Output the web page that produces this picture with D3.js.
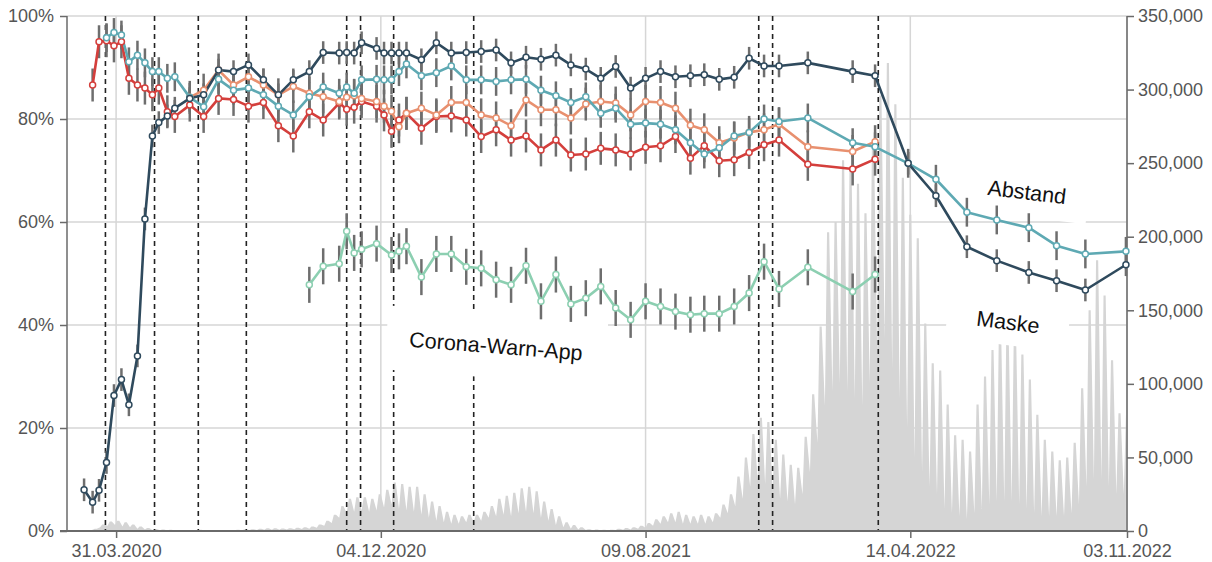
<!DOCTYPE html>
<html><head><meta charset="utf-8">
<script src="https://cdn.jsdelivr.net/npm/d3@7"></script>
<style>
body{margin:0;background:#fff}
svg{display:block}
text{font-family:"Liberation Sans",Arial,Helvetica,sans-serif}
</style>
</head><body>
<svg id="chart" width="1212" height="562"></svg>
<script>
// ---------------- DATA ----------------
const waveDates = ["2020-03-01","2020-03-09","2020-03-15","2020-03-22","2020-03-29","2020-04-05","2020-04-12","2020-04-20","2020-04-27","2020-05-04","2020-05-10","2020-05-18","2020-05-25","2020-06-08","2020-06-21","2020-07-05","2020-07-19","2020-08-02","2020-08-16","2020-08-30","2020-09-13","2020-09-28","2020-10-11","2020-10-26","2020-11-02","2020-11-09","2020-11-16","2020-11-30","2020-12-07","2020-12-14","2020-12-21","2020-12-28","2021-01-11","2021-01-25","2021-02-08","2021-02-22","2021-03-08","2021-03-22","2021-04-05","2021-04-19","2021-05-03","2021-05-17","2021-05-31","2021-06-14","2021-06-28","2021-07-12","2021-07-26","2021-08-09","2021-08-23","2021-09-06","2021-09-20","2021-10-03","2021-10-17","2021-10-31","2021-11-14","2021-11-28","2021-12-12","2022-01-08","2022-02-19","2022-03-12","2022-04-12","2022-05-08","2022-06-06","2022-07-04","2022-08-03","2022-08-29","2022-09-25","2022-11-02"];

// percent values per wave (null = not asked)
const maske = [8.0,5.6,7.9,13.3,26.3,29.4,24.5,34.0,60.6,76.7,79.3,80.6,82.1,84.0,84.7,89.5,89.2,90.5,87.6,84.7,87.6,89.2,92.9,92.8,92.9,92.8,94.8,93.7,92.8,92.8,92.8,92.8,91.5,94.8,92.8,92.9,93.1,93.4,90.9,92.0,91.6,92.4,90.5,89.7,87.9,90.2,86.0,87.9,89.2,88.2,88.4,88.6,87.7,88.1,91.8,90.3,90.3,90.9,89.2,88.4,71.4,65.1,55.2,52.5,50.2,48.6,46.8,51.7];
const abstand = [null,null,null,95.8,96.8,96.3,91.1,92.4,90.9,89.2,89.2,87.9,88.2,84.2,82.4,87.7,85.6,86.0,84.7,82.5,80.8,84.3,86.2,85.0,86.2,85.0,87.6,87.7,87.6,87.6,89.2,90.7,88.4,89.0,90.3,87.6,87.6,87.3,87.6,87.7,85.6,84.5,83.2,84.3,81.1,82.1,79.0,79.2,79.0,77.9,75.4,73.2,74.4,76.7,77.4,80.0,79.5,80.2,75.4,74.6,71.4,68.3,61.9,60.4,58.9,55.4,53.8,54.3];
const haendeWaschen = [null,null,null,null,null,null,null,null,null,null,null,null,null,84.2,85.6,89.5,86.6,88.2,86.6,84.7,86.3,85.0,84.3,83.4,84.2,84.5,84.0,83.4,82.5,81.5,78.5,81.1,82.1,80.8,83.2,83.2,80.8,80.2,78.7,83.7,81.8,81.8,80.2,82.9,83.4,83.1,80.8,83.4,83.2,82.1,78.8,77.9,75.4,76.3,77.4,77.9,79.0,74.6,73.7,75.6,null,null,null,null,null,null,null,null];
const kontakte = [null,86.6,95.0,95.2,94.2,95.0,87.9,86.6,86.0,84.7,86.0,81.4,80.5,82.7,80.5,84.0,83.8,82.5,83.2,78.7,76.7,81.4,79.8,83.1,81.9,82.3,83.4,82.5,80.8,77.6,79.8,81.1,78.2,80.5,80.6,79.8,76.6,77.9,75.9,76.7,74.0,75.9,73.0,73.2,74.3,74.0,73.2,74.5,74.8,76.6,72.4,74.8,71.9,72.1,73.5,75.0,75.9,71.2,70.3,72.2,null,null,null,null,null,null,null,null];
const warnApp = [null,null,null,null,null,null,null,null,null,null,null,null,null,null,null,null,null,null,null,null,null,47.8,51.4,51.9,58.2,54.0,54.7,55.8,null,53.6,54.3,55.3,49.3,53.8,53.8,51.3,51.0,48.8,47.8,51.5,44.6,49.8,44.1,45.2,47.5,43.3,41.0,44.6,43.6,42.6,42.0,42.2,42.2,43.6,46.2,52.3,47.0,51.2,46.5,49.8,null,null,null,null,null,null,null,null];

// half width of the error bars, percentage points
const errMaske = 2.2, errAbstand = 2.8, errHaende = 3.2, errKontakte = 3.2, errApp = 3.5;

// daily new cases (thousands): weekly high and weekly low, weeks starting Monday 17.02.2020
const casesWeekStart = "2020-02-17";
const casesHighK = [0,0.05,0.3,1.5,4.5,6.5,7,6,4.5,3,2,1.3,1,0.8,0.7,0.5,0.5,0.8,0.7,0.5,0.5,0.6,0.8,1,1.2,1.5,1.8,1.8,1.7,1.8,2.2,2.5,3,4.5,7,11,17,22,23,23,22,25,28,33,32,30,30,25,20,17,13,11,10,11,11,13,17,22,24,26,29,30,27,20,15,10,6,4,2.5,1.2,1,0.8,0.9,1.5,2,2.5,3.5,5.5,8,10,12,13,11,10,11,10,12,18,25,37,50,66,77,74,62,52,45,43,64,93,139,203,210,252,245,236,216,262,296,318,290,240,215,199,141,114,109,86,65,62,54,86,105,123,140,140,138,120,103,79,62,54,48,50,60,97,150,184,160,116,80,80];
const casesLowK = [0,0,0.1,0.8,2.5,3.5,4,3,2.5,1.5,1,0.6,0.5,0.4,0.3,0.3,0.3,0.4,0.4,0.3,0.3,0.3,0.4,0.5,0.6,0.7,0.8,0.9,0.9,1,1.2,1.3,1.5,2.2,3.5,5.5,9,12,13,14,13,14,16,18,15,14,13,11,9,7,6,5,5,6,6,7,9,10,11,10,12,13,12,9,7,4,2.5,1.5,1,0.6,0.4,0.4,0.4,0.6,0.8,1.1,1.5,2.2,3.5,5,6,6,5,5,5,5,6,9,12,17,22,30,35,32,28,22,20,18,25,40,60,85,95,100,95,90,85,100,120,130,110,90,70,50,40,30,25,15,12,10,8,12,15,18,20,20,20,18,15,12,10,10,10,10,12,18,30,35,35,30,25,25];

// political measures (dashed lines)
const eventDates = ["2020-03-21","2020-05-06","2020-06-16","2020-07-31","2020-11-02","2020-11-15","2020-12-16","2021-03-01","2021-11-23","2021-12-06","2022-03-15"];

// axis ticks
const xTickDates = ["2020-03-31","2020-12-04","2021-08-09","2022-04-14","2022-11-03"];
const yTicksPct = [0,20,40,60,80,100];
const yTicksCases = [0,50000,100000,150000,200000,250000,300000,350000];

// labels
const labelTexts = ["Abstand","Maske","Corona-Warn-App"];

// ---------------- DRAWING ----------------
const parse = d3.timeParse("%Y-%m-%d");
const fmt = d3.timeFormat("%d.%m.%Y");
const svg = d3.select("#chart");

const x = d3.scaleTime().domain([parse("2020-02-14"), parse("2022-11-03")]).range([67, 1127]);
const y = d3.scaleLinear().domain([0, 100]).range([531, 16]);
const y2 = d3.scaleLinear().domain([0, 350000]).range([531, 16]);

const gridColor = "#d6d6d6";
const axisColor = "#6a6a6a";
const textColor = "#555";

// gridlines
const grid = svg.append("g");
grid.selectAll("line.h").data(yTicksPct).join("line")
  .attr("x1", x.range()[0]).attr("x2", x.range()[1])
  .attr("y1", d => y(d)).attr("y2", d => y(d))
  .attr("stroke", gridColor).attr("stroke-width", 1.5);
grid.selectAll("line.v").data(xTickDates).join("line")
  .attr("x1", d => x(parse(d))).attr("x2", d => x(parse(d)))
  .attr("y1", y(100)).attr("y2", y(0))
  .attr("stroke", gridColor).attr("stroke-width", 1.5);

// cases area
const weekStart = parse(casesWeekStart);
const casePts = [];
casesHighK.forEach((hi, k) => {
  const s = d3.timeDay.offset(weekStart, 7 * k);
  casePts.push({date: s, v: casesLowK[k] * 1000});
  casePts.push({date: d3.timeDay.offset(s, 2), v: hi * 1000});
  casePts.push({date: d3.timeDay.offset(s, 4), v: hi * 1000});
});
const lastDate = x.domain()[1];
const ptsIn = casePts.filter(p => p.date <= lastDate);
svg.append("path")
  .datum(ptsIn)
  .attr("fill", "#d5d5d5")
  .attr("d", d3.area().x(d => x(d.date)).y0(y2(0)).y1(d => y2(d.v)));

// event dashed lines
svg.append("g").selectAll("line").data(eventDates).join("line")
  .attr("x1", d => x(parse(d))).attr("x2", d => x(parse(d)))
  .attr("y1", y(100)).attr("y2", y(0))
  .attr("stroke", "#222").attr("stroke-width", 1.6)
  .attr("stroke-dasharray", "5,4");

// label boxes with white background
const labelSpec = [
  {text: labelTexts[0], cx: 1027, cy: 192, w: 124, h: 50, rot: 7},
  {text: labelTexts[1], cx: 1008, cy: 322, w: 122, h: 46, rot: 7},
  {text: labelTexts[2], cx: 496, cy: 346, w: 220, h: 64, rot: 4.5}
];
const lg = svg.append("g").selectAll("g").data(labelSpec).join("g")
  .attr("transform", d => `translate(${d.cx},${d.cy}) rotate(${d.rot})`);
lg.append("rect").attr("x", d => -d.w / 2).attr("y", d => -d.h / 2)
  .attr("width", d => d.w).attr("height", d => d.h).attr("fill", "#fff");
lg.append("text").attr("text-anchor", "middle").attr("dy", "0.35em")
  .attr("font-size", 21.5).attr("fill", "#111").text(d => d.text);

// axes
const axL = svg.append("g").attr("transform", `translate(${x.range()[0]},0)`)
  .call(d3.axisLeft(y).tickValues(yTicksPct).tickFormat(d => d + "%").tickSize(7).tickPadding(6));
const axR = svg.append("g").attr("transform", `translate(${x.range()[1]},0)`)
  .call(d3.axisRight(y2).tickValues(yTicksCases).tickFormat(d3.format(",")).tickSize(7).tickPadding(4));
const axB = svg.append("g").attr("transform", `translate(0,${y(0)})`)
  .call(d3.axisBottom(x).tickValues(xTickDates.map(parse)).tickFormat(fmt).tickSize(7).tickPadding(6));
[axL, axR, axB].forEach(a => {
  a.selectAll("path,line").attr("stroke", axisColor).attr("stroke-width", 1.5);
  a.selectAll("text").attr("fill", textColor).attr("font-size", 18)
    .attr("font-family", '"Liberation Sans",Arial,sans-serif');
  a.select("path.domain").attr("d", null);
});
axL.append("line").attr("y1", y(100)).attr("y2", y(0)).attr("stroke", axisColor).attr("stroke-width", 1.5);
axR.append("line").attr("y1", y(100)).attr("y2", y(0)).attr("stroke", axisColor).attr("stroke-width", 1.5);
axB.append("line").attr("x1", x.range()[0] - 7).attr("x2", x.range()[1]).attr("stroke", axisColor).attr("stroke-width", 2);

// survey series
const series = [
  {vals: warnApp, err: errApp, color: "#8ccfb1"},
  {vals: kontakte, err: errKontakte, color: "#d43f3c"},
  {vals: haendeWaschen, err: errHaende, color: "#e8906f"},
  {vals: abstand, err: errAbstand, color: "#5ea9b3"},
  {vals: maske, err: errMaske, color: "#2f4a5d"}
].map(s => ({...s, pts: waveDates.map((d, i) => ({date: parse(d), v: s.vals[i]})).filter(p => p.v !== null)}));

const gErr = svg.append("g");
const gLine = svg.append("g");
const gDot = svg.append("g");
series.forEach(s => {
  gErr.selectAll(null).data(s.pts).join("line")
    .attr("x1", d => x(d.date)).attr("x2", d => x(d.date))
    .attr("y1", d => y(d.v + s.err)).attr("y2", d => y(d.v - s.err))
    .attr("stroke", "#6e6e6e").attr("stroke-width", 2.5);
});
series.forEach(s => {
  gLine.append("path").datum(s.pts)
    .attr("fill", "none").attr("stroke", s.color).attr("stroke-width", 2.6)
    .attr("stroke-linejoin", "round")
    .attr("d", d3.line().x(d => x(d.date)).y(d => y(d.v)));
  gDot.selectAll(null).data(s.pts).join("circle")
    .attr("cx", d => x(d.date)).attr("cy", d => y(d.v)).attr("r", 3)
    .attr("fill", "#fff").attr("stroke", s.color).attr("stroke-width", 1.5);
});
</script>
</body></html>
